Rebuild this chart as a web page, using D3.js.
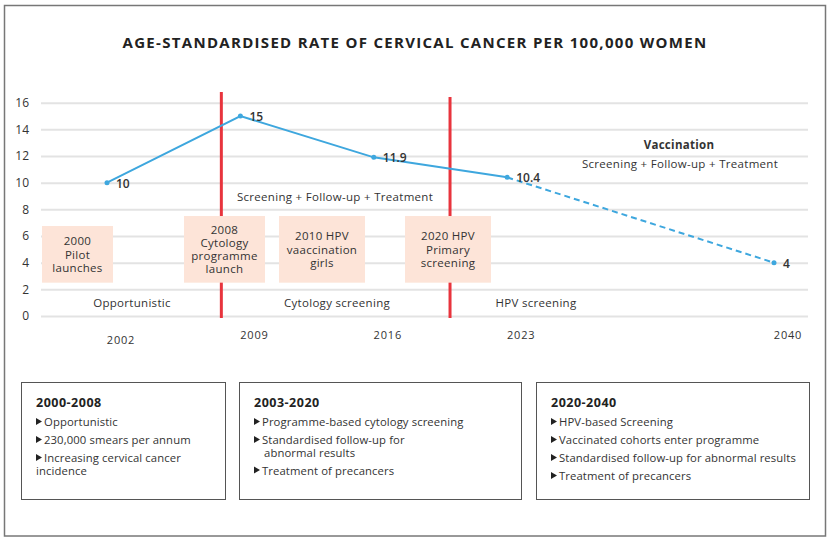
<!DOCTYPE html>
<html>
<head>
<meta charset="utf-8">
<script src="https://cdn.jsdelivr.net/npm/d3@7"></script>
<style>
  body { margin: 0; background: #fff; }
  svg { display: block; font-family: "Open Sans", Lato, sans-serif; }
</style>
</head>
<body>
<svg id="chart" width="830" height="541"></svg>
<script>
// data
const years = [2002, 2009, 2016, 2023, 2040];
const slots = [0, 1, 2, 3, 5];
const rates = [10, 15, 11.9, 10.4, 4];
const projectedFrom = 2023;
const yTicks = [0, 2, 4, 6, 8, 10, 12, 14, 16];
const eventYears = [2008, 2020];

const milestones = [
    ['2000', 'Pilot', 'launches'],
    ['2008', 'Cytology', 'programme', 'launch'],
    ['2010 HPV', 'vaaccination', 'girls'],
    ['2020 HPV', 'Primary', 'screening']
];
const phases = ['Opportunistic', 'Cytology screening', 'HPV screening'];
const notes = ['Screening + Follow-up + Treatment', 'Vaccination', 'Screening + Follow-up + Treatment'];

const periods = ['2000-2008', '2003-2020', '2020-2040'];
const periodItems = [
    [['Opportunistic'], ['230,000 smears per annum'], ['Increasing cervical cancer', 'incidence']],
    [['Programme-based cytology screening'], ['Standardised follow-up for', 'abnormal results'], ['Treatment of precancers']],
    [['HPV-based Screening'], ['Vaccinated cohorts enter programme'], ['Standardised follow-up for abnormal results'], ['Treatment of precancers']]
];

const svg = d3.select('#chart');
const textCol = '#333';

// outer frame
svg.append('rect')
    .attr('x', 4.5).attr('y', 5.5)
    .attr('width', 821).attr('height', 530.5)
    .style('fill', 'none').style('stroke', '#777').style('stroke-width', 1.5);

svg.append('text')
    .attr('x', 415).attr('y', 48)
    .attr('text-anchor', 'middle')
    .style('font-size', '15px').style('font-weight', 'bold').style('fill', '#222')
    .style('letter-spacing', '1.3px')
    .text('AGE-STANDARDISED RATE OF CERVICAL CANCER PER 100,000 WOMEN');

// scales
const xi = d3.scaleLinear().domain([0, 5]).range([107, 774]);
const x = d3.scaleLinear().domain(years).range(slots.map(xi));
const y = d3.scaleLinear().domain([0, 16]).range([316, 102.7]);

// grid + y axis
const yAxis = svg.append('g')
    .attr('transform', 'translate(41,0)')
    .call(d3.axisLeft(y).tickValues(yTicks).tickSize(-767).tickPadding(12));
yAxis.select('.domain').remove();
yAxis.selectAll('.tick line').style('stroke', '#e3e3e3').style('stroke-width', 2);
yAxis.selectAll('.tick text')
    .style('font-size', '12px').style('fill', textCol)
    .style('font-family', '"Open Sans", sans-serif');

// x labels
svg.append('g').selectAll('text')
    .data(years)
    .join('text')
    .attr('x', d => x(d) + 14)
    .attr('y', (d, i) => i === 0 ? 344 : 339)
    .attr('text-anchor', 'middle')
    .style('font-size', '11px').style('letter-spacing', '0.8px').style('fill', textCol)
    .text(d => d);

// event lines
svg.append('g').selectAll('line')
    .data(eventYears)
    .join('line')
    .attr('x1', d => x(d)).attr('x2', d => x(d))
    .attr('y1', (d, i) => i === 0 ? 92 : 97)
    .attr('y2', 318)
    .style('stroke', '#e8343d').style('stroke-width', 3);

// milestone boxes
const boxCx = [77.5, 224.5, 322, 448];
const boxW = [71, 81, 86, 86];
const boxTop = [6.75, 7.5, 7.5, 7.5];
const mg = svg.append('g').selectAll('g')
    .data(milestones)
    .join('g');
mg.append('rect')
    .attr('x', (d, i) => boxCx[i] - boxW[i] / 2)
    .attr('y', (d, i) => y(boxTop[i]))
    .attr('width', (d, i) => boxW[i])
    .attr('height', (d, i) => y(2.5) - y(boxTop[i]))
    .style('fill', '#fde4d8');
mg.each(function (lines, i) {
    const cy = (y(2.5) + y(boxTop[i])) / 2;
    const lh = 13.3;
    d3.select(this).selectAll('text')
        .data(lines)
        .join('text')
        .attr('x', boxCx[i])
        .attr('y', (d, j) => cy + (j - (lines.length - 1) / 2) * lh + 4.2)
        .attr('text-anchor', 'middle')
        .style('font-size', '11.5px').style('letter-spacing', '0.3px').style('fill', textCol)
        .text(d => d);
});

// phase labels
const phaseX = [132, 337, 536];
svg.append('g').selectAll('text')
    .data(phases)
    .join('text')
    .attr('x', (d, i) => phaseX[i])
    .attr('y', y(1) + 4)
    .attr('text-anchor', 'middle')
    .style('font-size', '11.5px').style('letter-spacing', '0.3px').style('fill', textCol)
    .text(d => d);

const noteX = [335, 679, 680];
const noteY = [8.9, 12.8, 11.4];
svg.append('g').selectAll('text')
    .data(notes)
    .join('text')
    .attr('x', (d, i) => noteX[i])
    .attr('y', (d, i) => y(noteY[i]) + 4)
    .attr('text-anchor', 'middle')
    .style('font-size', '11.5px')
    .style('letter-spacing', '0.3px')
    .style('font-weight', (d, i) => i === 1 ? 'bold' : 'normal')
    .style('fill', textCol)
    .text(d => d);

// rate line
const pts = years.map((d, i) => ({ year: d, v: rates[i] }));
const line = d3.line().x(d => x(d.year)).y(d => y(d.v));
svg.append('path')
    .datum(pts.filter(d => d.year <= projectedFrom))
    .attr('d', line)
    .style('fill', 'none').style('stroke', '#3ea7de').style('stroke-width', 2);
svg.append('path')
    .datum(pts.filter(d => d.year >= projectedFrom))
    .attr('d', line)
    .style('fill', 'none').style('stroke', '#3ea7de').style('stroke-width', 2)
    .style('stroke-dasharray', '6,4');
svg.append('g').selectAll('circle')
    .data(pts)
    .join('circle')
    .attr('cx', d => x(d.year)).attr('cy', d => y(d.v))
    .attr('r', 2.5)
    .style('fill', '#3ea7de');
svg.append('g').selectAll('text')
    .data(pts)
    .join('text')
    .attr('x', d => x(d.year) + 9)
    .attr('y', d => y(d.v) + 5)
    .style('font-size', '12px').style('font-weight', 600).style('fill', textCol)
    .text(d => d.v);

// period boxes
const pbX = [21, 239, 536];
const pbW = [204, 282, 273];
const pg = svg.append('g').selectAll('g')
    .data(periods)
    .join('g')
    .attr('transform', (d, i) => `translate(${pbX[i]},382)`);
pg.append('rect')
    .attr('x', 0.5).attr('y', 0.5)
    .attr('width', (d, i) => pbW[i]).attr('height', 117)
    .style('fill', '#fff').style('stroke', '#555').style('stroke-width', 1);
pg.append('text')
    .attr('x', 15).attr('y', 25)
    .style('font-size', '12.5px').style('font-weight', 'bold').style('fill', '#222')
    .style('letter-spacing', '0.5px')
    .text(d => d);
pg.each(function (d, i) {
    const g = d3.select(this);
    let yy = 44;
    periodItems[i].forEach(item => {
        g.append('path')
            .attr('d', `M15,${yy - 8}L21,${yy - 4.5}L15,${yy - 1}Z`)
            .style('fill', '#222');
        item.forEach((ln, j) => {
            g.append('text')
                .attr('x', j === 0 ? 23 : (i === 0 ? 15 : 25))
                .attr('y', yy + j * 12.5)
                .style('font-size', '11.3px').style('letter-spacing', '0.1px').style('fill', textCol)
                .text(ln);
        });
        yy += 18 + (item.length - 1) * 12.5;
    });
});
</script>
</body>
</html>
